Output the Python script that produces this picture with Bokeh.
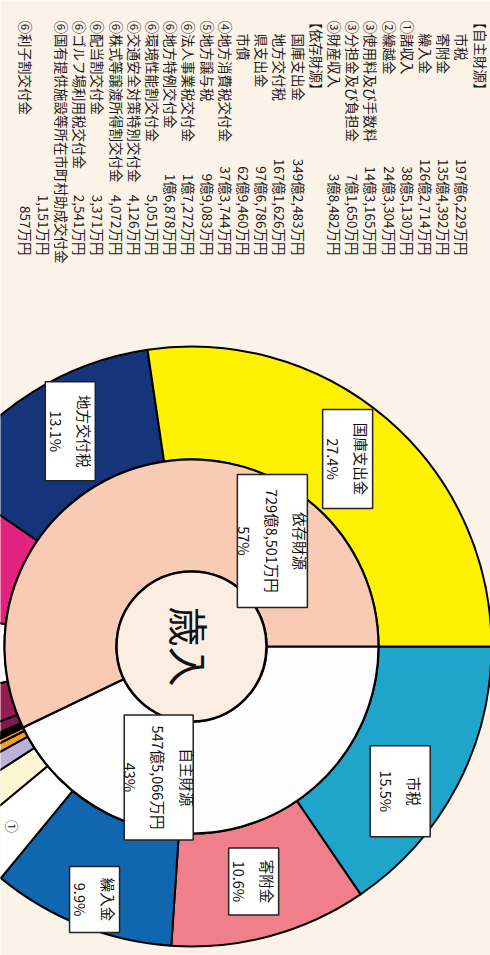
import math
from bokeh.plotting import figure
from bokeh.models import Range1d, ColumnDataSource
from bokeh.core.properties import value
from bokeh.embed import file_html
from bokeh.resources import INLINE

# ---------------- data (units: 万円) ----------------
jishu_names = ["市税", "寄附金", "繰入金", "①諸収入", "②繰越金",
               "③使用料及び手数料", "③分担金及び負担金", "③財産収入"]
jishu_vals = [1976229, 1354392, 1262714, 385130, 243304, 143165, 71650, 38482]

izon_names = ["国庫支出金", "地方交付税", "県支出金", "市債",
              "④地方消費税交付金", "⑤地方譲与税", "⑥法人事業税交付金",
              "⑥地方特例交付金", "⑥環境性能割交付金", "⑥交通安全対策特別交付金",
              "⑥株式等譲渡所得割交付金", "⑥配当割交付金", "⑥ゴルフ場利用税交付金",
              "⑥国有提供施設等所在市町村助成交付金", "⑥利子割交付金"]
izon_vals = [3492483, 1671626, 976786, 629460, 373744, 99083, 17272, 16878,
             5051, 4126, 4072, 3371, 2541, 1151, 857]

group_names = ["自主財源", "依存財源"]
group_pcts = ["43%", "57%"]
box_names = ["国庫支出金", "地方交付税", "市税", "寄附金", "繰入金"]
box_pcts = ["27.4%", "13.1%", "15.5%", "10.6%", "9.9%"]
center_title = "歳入"

# ---------------- styles / layout ----------------
W, H = 490, 955
BG = "#fbf3e8"
FONT = value("Noto Sans CJK JP")
CX, CY = 191, H - 646
R0, R1, R2 = 75, 187, 300

jishu_colors = ["#1ea5c9", "#f07f8c", "#1166b0", "#ffffff", "#fdf7d4",
                "#b9b3da", "#f4a21c", "#f08c1a"]
izon_colors = ["#fff200", "#15347a", "#e3237f", "#ffffff", "#931e55", "#7e1a4c"] + ["#6e1845"] * 9
group_colors = ["#fdfdfd", "#f9cbb5"]


def fmt(v):
    oku, man = divmod(v, 10000)
    if oku:
        return f"{oku}億{man:,}万円"
    return f"{man:,}万円"


total = sum(jishu_vals) + sum(izon_vals)

p = figure(width=W, height=H, x_range=Range1d(0, W), y_range=Range1d(0, H),
           output_backend="svg", toolbar_location=None,
           x_axis_type=None, y_axis_type=None, min_border=0,
           background_fill_color=BG, border_fill_color=BG, outline_line_color=None)


def wedges(vals):
    st, en, mid = [], [], []
    cum = 0
    for v in vals:
        a0 = cum / total * 360
        cum += v
        a1 = cum / total * 360
        st.append(-math.radians(a1))
        en.append(-math.radians(a0))
        mid.append((a0 + a1) / 2)
    return st, en, mid


# outer ring: 自主財源 items clockwise from 3 o'clock, then 依存財源 items reversed
outer_names = jishu_names + izon_names[::-1]
outer_vals = jishu_vals + izon_vals[::-1]
outer_colors = jishu_colors + izon_colors[::-1]
st, en, mid_outer = wedges(outer_vals)
src_o = ColumnDataSource(dict(s=st, e=en, c=outer_colors))
p.annular_wedge(x=CX, y=CY, inner_radius=R1, outer_radius=R2, start_angle="s", end_angle="e",
                fill_color="c", line_color="black", line_width=2, source=src_o)

# inner ring
g_vals = [sum(jishu_vals), sum(izon_vals)]
st2, en2, mid_inner = wedges(g_vals)
src_i = ColumnDataSource(dict(s=st2, e=en2, c=group_colors))
p.annular_wedge(x=CX, y=CY, inner_radius=R0, outer_radius=R1, start_angle="s", end_angle="e",
                fill_color="c", line_color="black", line_width=2.2, source=src_i)

# center circle
p.circle(x=[CX], y=[CY], radius=R0, fill_color="#fcede3", line_color="black", line_width=2.5)
p.text(x=[CX - 2], y=[CY], text=[center_title], angle=-math.pi / 2, text_font=FONT,
       text_font_size="40px", text_align="center", text_baseline="middle", text_color="#111111")

mid_map = dict(zip(outer_names, mid_outer))
gmid_map = dict(zip(group_names, mid_inner))


def polar(theta_deg, r):
    t = math.radians(theta_deg)
    return CX + r * math.cos(t), CY - r * math.sin(t)


# label boxes: (angle offset deg, radius, box w, box h)
box_layout = {"国庫支出金": (-1, 244, 50, 99), "地方交付税": (2.6, 247, 50, 99),
              "市税": (6.9, 254, 60, 91), "寄附金": (0.4, 243, 50, 67),
              "繰入金": (-0.7, 271, 50, 66)}
group_layout = {"自主財源": (26.9, 135, 69, 125), "依存財源": (50.3, 133, 70, 133)}

bx, by, bw, bh, bt = [], [], [], [], []
for n, pc in zip(box_names, box_pcts):
    da, r, w, h = box_layout[n]
    x, y = polar(mid_map[n] + da, r)
    bx.append(x); by.append(y); bw.append(w); bh.append(h)
    bt.append(f"{n}\n{pc}")
for n, v, pc in zip(group_names, g_vals, group_pcts):
    da, r, w, h = group_layout[n]
    x, y = polar(gmid_map[n] + da, r)
    bx.append(x); by.append(y); bw.append(w); bh.append(h)
    bt.append(f"{n}\n{fmt(v)}\n{pc}")
src_b = ColumnDataSource(dict(x=bx, y=by, w=bw, h=bh, t=bt))
p.rect(x="x", y="y", width="w", height="h", fill_color="white", line_color="#222222",
       line_width=1.5, source=src_b)
p.text(x="x", y="y", text="t", angle=-math.pi / 2, text_font=FONT, text_font_size="14.5px",
       text_align="center", text_baseline="middle", text_color="#111111",
       text_line_height=1.35, source=src_b)

# circled marker in ring
cx1, cy1 = polar(mid_map["①諸収入"], 254)
p.text(x=[cx1], y=[cy1], text=["①"], angle=-math.pi / 2, text_font=FONT, text_font_size="13px",
       text_align="center", text_baseline="middle", text_color="#111111")

# ---------------- list text (top) ----------------
rows = [("【自主財源】", None)] + list(zip(jishu_names, jishu_vals)) + [("【依存財源】", None)]
for n, v in zip(izon_names, izon_vals):
    if len(n) > 14:
        rows.append((n, None))
        rows.append(("", v))
    else:
        rows.append((n, v))

lx, ly, lt, vx, vy, vt = [], [], [], [], [], []
for i, (n, v) in enumerate(rows):
    x = 480 - 18.2 * i
    if n:
        if n.startswith("【"):
            y0 = 15
        elif n[0] in "①②③④⑤⑥":
            y0 = 20
        else:
            y0 = 33
        lx.append(x); ly.append(H - y0); lt.append(n)
    if v is not None:
        vx.append(x); vy.append(H - 255); vt.append(fmt(v))

p.text(x=lx, y=ly, text=lt, angle=-math.pi / 2, text_font=FONT, text_font_size="13.5px",
       text_align="left", text_baseline="middle", text_color="#1a1a1a")
p.text(x=vx, y=vy, text=vt, angle=-math.pi / 2, text_font=FONT, text_font_size="13.5px",
       text_align="right", text_baseline="middle", text_color="#1a1a1a")

open("out.html", "w").write(file_html(p, INLINE))
